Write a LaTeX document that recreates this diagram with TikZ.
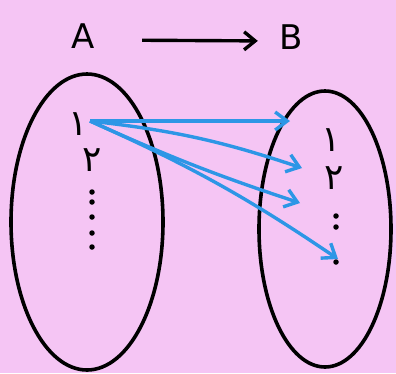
\documentclass[tikz,border=0pt]{standalone}
\usepackage{fontspec}
\setmainfont{DejaVu Sans}
\newfontfamily\persianfont[Script=Arabic]{DejaVu Sans}
\usetikzlibrary{arrows.meta,shapes.geometric}
\definecolor{pinkbg}{RGB}{245,197,244}
\definecolor{penblue}{RGB}{45,150,230}

\begin{document}
\begin{tikzpicture}[x=1pt, y=-1pt,
  every node/.style={font=\fontsize{34}{34}\selectfont},
  set/.style={draw, ellipse, line width=3.6pt, inner sep=0pt},
  digit/.style={font=\persianfont\fontsize{36}{36}\selectfont, inner sep=0pt},
  dot/.style={circle, fill=black, inner sep=0pt, minimum size=5.5pt},
  map/.style={-{Straight Barb[length=11pt,width=18pt]}, line width=3.4pt},
  arrow/.style={-{Straight Barb[length=12pt,width=18pt]}, line width=3.4pt, penblue}
]
\fill[pinkbg] (0,0) rectangle (396,373);
\useasboundingbox (0,0) rectangle (396,373);

\node (a) at (83,36) {A};
\node (b) at (291,37) {B};
\draw[map, shorten <=44pt, shorten >=18pt] ([yshift=-4pt]a.east) -- ([yshift=-4pt]b.west);

\node[set, minimum width=152pt, minimum height=296pt] (setA) at (87,222) {};
\node[set, minimum width=132pt, minimum height=276pt] (setB) at (325,229) {};

% left set
\node[digit] (la1) at (78,124) {۱};
\node[digit] (la2) at (92,160) {۲};
\foreach \y [count=\i] in {192,202,217,233,247}
  \node[dot] (ld\i) at (92,\y) {};

% right set
\node[digit] (rb1) at (331,140) {۱};
\node[digit] (rb2) at (334,178) {۲};
\foreach \y [count=\i] in {216,227,262}
  \node[dot] (rd\i) at (336,\y) {};

\coordinate (src) at (90,121);
\coordinate (t1) at (290,121);
\coordinate (t2) at (302,168);
\coordinate (t3) at (300,203);
\coordinate (t4) at (338,259);

\draw[arrow] (src) -- (t1);
\draw[arrow] (src) to[bend left=6] (t2);
\draw[arrow] (src) to[bend right=3] (t3);
\draw[arrow] (src) to[bend left=5] (t4);
\end{tikzpicture}
\end{document}
